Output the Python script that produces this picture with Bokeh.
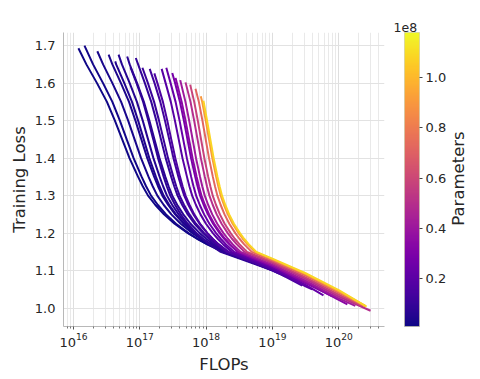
from math import pi
from bokeh.plotting import figure
from bokeh.layouts import row
from bokeh.models import (ColumnDataSource, LinearColorMapper, ColorBar, FixedTicker,
                          PrintfTickFormatter, LogTickFormatter, Label, Range1d, Title)
from bokeh.palettes import Plasma256
from bokeh.transform import linear_cmap
from bokeh.embed import file_html
from bokeh.resources import INLINE

# Model sizes (units of 1e8 parameters)
params = [0.015, 0.02, 0.03, 0.04, 0.05, 0.06, 0.07, 0.08, 0.09, 0.11, 0.13,
          0.16, 0.19, 0.23, 0.28, 0.34, 0.41, 0.49, 0.58, 0.72, 0.90, 1.08]

# Each run: log10(FLOPs) and training loss
run01_logflops = [16.075, 16.195, 16.355, 16.505, 16.625, 16.735, 16.845, 16.975, 17.045, 17.125, 17.235, 17.365, 17.525, 17.725, 17.865, 18.025, 18.275, 18.70]
run01_loss = [1.693, 1.65, 1.60, 1.55, 1.50, 1.45, 1.40, 1.35, 1.325, 1.30, 1.275, 1.25, 1.225, 1.20, 1.185, 1.17, 1.15, 1.125]
run02_logflops = [16.166, 16.296, 16.446, 16.587, 16.70, 16.803, 16.907, 17.029, 17.095, 17.17, 17.273, 17.396, 17.546, 17.734, 17.866, 18.016, 18.251, 18.72]
run02_loss = [1.700, 1.65, 1.60, 1.55, 1.50, 1.45, 1.40, 1.35, 1.325, 1.30, 1.275, 1.25, 1.225, 1.20, 1.185, 1.17, 1.15, 1.121]
run03_logflops = [16.36, 16.447, 16.587, 16.719, 16.825, 16.922, 17.019, 17.133, 17.195, 17.265, 17.362, 17.476, 17.617, 17.793, 17.916, 18.057, 18.277, 18.75]
run03_loss = [1.685, 1.65, 1.60, 1.55, 1.50, 1.45, 1.40, 1.35, 1.325, 1.30, 1.275, 1.25, 1.225, 1.20, 1.185, 1.17, 1.15, 1.119]
run04_logflops = [16.53, 16.587, 16.716, 16.838, 16.935, 17.024, 17.113, 17.218, 17.275, 17.34, 17.429, 17.534, 17.664, 17.826, 17.939, 18.069, 18.272, 18.80]
run04_loss = [1.676, 1.65, 1.60, 1.55, 1.50, 1.45, 1.40, 1.35, 1.325, 1.30, 1.275, 1.25, 1.225, 1.20, 1.185, 1.17, 1.15, 1.116]
run05_logflops = [16.63, 16.644, 16.767, 16.883, 16.975, 17.06, 17.144, 17.244, 17.298, 17.36, 17.445, 17.545, 17.668, 17.822, 17.930, 18.053, 18.246, 18.85]
run05_loss = [1.658, 1.65, 1.60, 1.55, 1.50, 1.45, 1.40, 1.35, 1.325, 1.30, 1.275, 1.25, 1.225, 1.20, 1.185, 1.17, 1.15, 1.113]
run06_logflops = [16.68, 16.731, 16.848, 16.957, 17.045, 17.125, 17.206, 17.30, 17.352, 17.41, 17.49, 17.585, 17.702, 17.848, 17.95, 18.067, 18.25, 18.90]
run06_loss = [1.676, 1.65, 1.60, 1.55, 1.50, 1.45, 1.40, 1.35, 1.325, 1.30, 1.275, 1.25, 1.225, 1.20, 1.185, 1.17, 1.15, 1.109]
run07_logflops = [16.81, 16.848, 16.959, 17.062, 17.145, 17.221, 17.297, 17.386, 17.435, 17.49, 17.566, 17.656, 17.766, 17.904, 18.001, 18.111, 18.284, 18.95]
run07_loss = [1.671, 1.65, 1.60, 1.55, 1.50, 1.45, 1.40, 1.35, 1.325, 1.30, 1.275, 1.25, 1.225, 1.20, 1.185, 1.17, 1.15, 1.106]
run08_logflops = [16.86, 16.952, 17.051, 17.13, 17.203, 17.275, 17.361, 17.407, 17.46, 17.533, 17.618, 17.724, 17.856, 17.948, 18.054, 18.219, 19.00]
run08_loss = [1.642, 1.60, 1.55, 1.50, 1.45, 1.40, 1.35, 1.325, 1.30, 1.275, 1.25, 1.225, 1.20, 1.185, 1.17, 1.15, 1.101]
run09_logflops = [16.94, 16.975, 17.077, 17.173, 17.25, 17.32, 17.391, 17.474, 17.519, 17.57, 17.64, 17.724, 17.826, 17.954, 18.044, 18.146, 18.306, 19.00, 19.10]
run09_loss = [1.667, 1.65, 1.60, 1.55, 1.50, 1.45, 1.40, 1.35, 1.325, 1.30, 1.275, 1.25, 1.225, 1.20, 1.185, 1.17, 1.15, 1.100, 1.092]
run10_logflops = [17.04, 17.123, 17.216, 17.29, 17.358, 17.426, 17.507, 17.55, 17.60, 17.668, 17.749, 17.848, 17.972, 18.059, 18.158, 18.313, 19.00, 19.20]
run10_loss = [1.641, 1.60, 1.55, 1.50, 1.45, 1.40, 1.35, 1.325, 1.30, 1.275, 1.25, 1.225, 1.20, 1.185, 1.17, 1.15, 1.101, 1.084]
run11_logflops = [17.15, 17.223, 17.31, 17.38, 17.444, 17.508, 17.583, 17.624, 17.67, 17.734, 17.809, 17.902, 18.018, 18.099, 18.192, 18.337, 19.00, 19.30]
run11_loss = [1.638, 1.60, 1.55, 1.50, 1.45, 1.40, 1.35, 1.325, 1.30, 1.275, 1.25, 1.225, 1.20, 1.185, 1.17, 1.15, 1.103, 1.078]
run12_logflops = [17.22, 17.266, 17.349, 17.415, 17.475, 17.536, 17.607, 17.646, 17.69, 17.751, 17.822, 17.91, 18.02, 18.097, 18.185, 18.323, 19.00, 19.45]
run12_loss = [1.626, 1.60, 1.55, 1.50, 1.45, 1.40, 1.35, 1.325, 1.30, 1.275, 1.25, 1.225, 1.20, 1.185, 1.17, 1.15, 1.102, 1.060]
run13_logflops = [17.33, 17.39, 17.468, 17.53, 17.587, 17.644, 17.712, 17.748, 17.79, 17.847, 17.915, 17.998, 18.102, 18.175, 18.258, 18.388, 19.00, 19.50, 19.60]
run13_loss = [1.638, 1.60, 1.55, 1.50, 1.45, 1.40, 1.35, 1.325, 1.30, 1.275, 1.25, 1.225, 1.20, 1.185, 1.17, 1.15, 1.106, 1.058, 1.050]
run14_logflops = [17.40, 17.465, 17.54, 17.60, 17.655, 17.71, 17.775, 17.81, 17.85, 17.905, 17.97, 18.05, 18.15, 18.22, 18.30, 18.425, 19.00, 19.50, 19.77]
run14_loss = [1.641, 1.60, 1.55, 1.50, 1.45, 1.40, 1.35, 1.325, 1.30, 1.275, 1.25, 1.225, 1.20, 1.185, 1.17, 1.15, 1.109, 1.062, 1.034]
run15_logflops = [17.49, 17.533, 17.606, 17.665, 17.719, 17.773, 17.836, 17.871, 17.91, 17.964, 18.028, 18.106, 18.204, 18.273, 18.351, 18.474, 19.00, 19.50, 19.90]
run15_loss = [1.627, 1.60, 1.55, 1.50, 1.45, 1.40, 1.35, 1.325, 1.30, 1.275, 1.25, 1.225, 1.20, 1.185, 1.17, 1.15, 1.112, 1.067, 1.032]
run16_logflops = [17.54, 17.56, 17.632, 17.69, 17.743, 17.796, 17.858, 17.892, 17.93, 17.983, 18.045, 18.122, 18.218, 18.285, 18.362, 18.482, 19.00, 19.50, 20.00, 20.13]
run16_loss = [1.614, 1.60, 1.55, 1.50, 1.45, 1.40, 1.35, 1.325, 1.30, 1.275, 1.25, 1.225, 1.20, 1.185, 1.17, 1.15, 1.113, 1.069, 1.022, 1.010]
run17_logflops = [17.61, 17.689, 17.745, 17.797, 17.848, 17.909, 17.942, 17.98, 18.032, 18.093, 18.168, 18.262, 18.328, 18.403, 18.521, 19.00, 19.50, 20.00, 20.25]
run17_loss = [1.608, 1.55, 1.50, 1.45, 1.40, 1.35, 1.325, 1.30, 1.275, 1.25, 1.225, 1.20, 1.185, 1.17, 1.15, 1.116, 1.073, 1.026, 1.006]
run18_logflops = [17.69, 17.765, 17.82, 17.871, 17.921, 17.981, 18.013, 18.05, 18.101, 18.16, 18.234, 18.326, 18.39, 18.464, 18.579, 19.00, 19.50, 20.00, 20.48]
run18_loss = [1.602, 1.55, 1.50, 1.45, 1.40, 1.35, 1.325, 1.30, 1.275, 1.25, 1.225, 1.20, 1.185, 1.17, 1.15, 1.120, 1.078, 1.031, 0.993]
run19_logflops = [17.76, 17.821, 17.875, 17.924, 17.974, 18.032, 18.064, 18.10, 18.15, 18.208, 18.28, 18.37, 18.433, 18.505, 18.618, 19.00, 19.50, 20.00, 20.35]
run19_loss = [1.596, 1.55, 1.50, 1.45, 1.40, 1.35, 1.325, 1.30, 1.275, 1.25, 1.225, 1.20, 1.185, 1.17, 1.15, 1.123, 1.082, 1.036, 1.006]
run20_logflops = [17.84, 17.891, 17.945, 17.994, 18.044, 18.102, 18.134, 18.17, 18.22, 18.278, 18.35, 18.44, 18.503, 18.575, 18.688, 19.00, 19.50, 20.00, 20.40]
run20_loss = [1.585, 1.55, 1.50, 1.45, 1.40, 1.35, 1.325, 1.30, 1.275, 1.25, 1.225, 1.20, 1.185, 1.17, 1.15, 1.127, 1.087, 1.041, 1.005]
run21_logflops = [17.92, 17.941, 17.995, 18.044, 18.094, 18.152, 18.184, 18.22, 18.27, 18.328, 18.40, 18.49, 18.553, 18.625, 18.738, 19.00, 19.50, 20.00, 20.40]
run21_loss = [1.565, 1.55, 1.50, 1.45, 1.40, 1.35, 1.325, 1.30, 1.275, 1.25, 1.225, 1.20, 1.185, 1.17, 1.15, 1.130, 1.091, 1.045, 1.006]
run22_logflops = [17.96, 18.015, 18.064, 18.114, 18.172, 18.204, 18.24, 18.29, 18.348, 18.42, 18.51, 18.573, 18.645, 18.758, 19.00, 19.50, 20.00, 20.42]
run22_loss = [1.553, 1.50, 1.45, 1.40, 1.35, 1.325, 1.30, 1.275, 1.25, 1.225, 1.20, 1.185, 1.17, 1.15, 1.132, 1.093, 1.048, 1.004]

y_ticks = [1.0, 1.1, 1.2, 1.3, 1.4, 1.5, 1.6, 1.7]
x_tick_exponents = [16, 17, 18, 19, 20]
cbar_ticks = [0.2, 0.4, 0.6, 0.8, 1.0]

runs_x = [run01_logflops, run02_logflops, run03_logflops, run04_logflops, run05_logflops,
          run06_logflops, run07_logflops, run08_logflops, run09_logflops, run10_logflops,
          run11_logflops, run12_logflops, run13_logflops, run14_logflops, run15_logflops,
          run16_logflops, run17_logflops, run18_logflops, run19_logflops, run20_logflops,
          run21_logflops, run22_logflops]
runs_y = [run01_loss, run02_loss, run03_loss, run04_loss, run05_loss, run06_loss,
          run07_loss, run08_loss, run09_loss, run10_loss, run11_loss, run12_loss,
          run13_loss, run14_loss, run15_loss, run16_loss, run17_loss, run18_loss,
          run19_loss, run20_loss, run21_loss, run22_loss]

FONT = "DejaVu Sans"
TXT = "#262626"
P_LOW, P_HIGH = 0.01, 1.18
FW, FH = 321, 294
LEFT, TOP, BOTTOM = 63, 32, 53
MAIN_W = 390
SIDE_W = 480 - MAIN_W
H = TOP + FH + BOTTOM

source = ColumnDataSource(dict(
    xs=[[10 ** v for v in lx] for lx in runs_x],
    ys=runs_y,
    param=params,
))

p = figure(x_axis_type="log", output_backend="svg", toolbar_location=None,
           frame_width=FW, frame_height=FH,
           min_border_left=LEFT, min_border_top=TOP, min_border_right=MAIN_W - LEFT - FW,
           min_border_bottom=BOTTOM,
           x_range=Range1d(10 ** 15.85, 10 ** 20.69), y_range=Range1d(0.951, 1.735))
p.outline_line_color = None
p.background_fill_color = "white"

p.multi_line(xs="xs", ys="ys", source=source, line_width=2.0,
             line_color=linear_cmap("param", Plasma256, P_LOW, P_HIGH))

minor = [k * 10 ** e for e in range(15, 21) for k in range(2, 10)]
p.xaxis.ticker = FixedTicker(ticks=[10 ** e for e in x_tick_exponents], minor_ticks=minor)
p.xaxis.formatter = LogTickFormatter()
p.yaxis.ticker = FixedTicker(ticks=y_ticks)
p.yaxis.formatter = PrintfTickFormatter(format="%.1f")

p.xaxis.axis_label = "FLOPs"
p.yaxis.axis_label = "Training Loss"
for ax in (p.xaxis[0], p.yaxis[0]):
    ax.axis_label_text_font = FONT
    ax.axis_label_text_font_size = "16.5px"
    ax.axis_label_text_font_style = "normal"
    ax.axis_label_text_color = TXT
    ax.major_label_text_font = FONT
    ax.major_label_text_font_size = "13px"
    ax.major_label_text_color = TXT
    ax.axis_line_color = "#b8b8b8"
p.xaxis.axis_label_standoff = 5
p.yaxis.axis_label_standoff = 3
p.xaxis.major_tick_out = 3
p.xaxis.major_tick_in = 0
p.xaxis.minor_tick_out = 2
p.xaxis.minor_tick_in = 0
p.xaxis.major_tick_line_color = "#555555"
p.xaxis.minor_tick_line_color = "#777777"
p.xaxis.major_label_standoff = 3
p.yaxis.major_tick_out = 0
p.yaxis.major_tick_in = 0
p.yaxis.minor_tick_line_color = None
p.yaxis.major_label_standoff = 8

p.xgrid.grid_line_color = "#dedede"
p.xgrid.minor_grid_line_color = "#e9e9e9"
p.xgrid.grid_line_width = 1
p.ygrid.grid_line_color = "#e2e2e2"
p.ygrid.minor_grid_line_color = None

# Side panel figure holding the colour bar and its texts (its frame aligns with the main frame)
side = figure(width=SIDE_W, height=H, output_backend="svg", toolbar_location=None,
              x_range=Range1d(0, SIDE_W), y_range=Range1d(0, FH),
              x_axis_location=None, y_axis_location=None, min_border=0)
side.outline_line_color = None
side.grid.visible = False

mapper = LinearColorMapper(palette=Plasma256, low=P_LOW, high=P_HIGH)
cb = ColorBar(color_mapper=mapper, ticker=FixedTicker(ticks=cbar_ticks),
              formatter=PrintfTickFormatter(format="%.1f"),
              location=(404 - MAIN_W, 0), width=15, height=FH, padding=0, margin=0,
              major_label_text_font=FONT, major_label_text_font_size="13px",
              major_label_text_color=TXT,
              major_tick_out=3, major_tick_in=0, major_tick_line_color="#444444",
              minor_tick_line_color=None, label_standoff=3,
              bar_line_color="#c8c8a0", bar_line_width=0.6,
              background_fill_alpha=0, border_line_color=None)
side.add_layout(cb)

side.add_layout(Title(text="1e8", align="left", offset=3, standoff=1,
                      vertical_align="bottom", text_font=FONT, text_font_size="12.5px",
                      text_font_style="normal", text_color=TXT), "above")
side.add_layout(Label(x=458 - MAIN_W, y=FH - (178 - TOP), x_units="screen", y_units="screen",
                      text="Parameters", angle=pi / 2, text_align="center",
                      text_baseline="middle", text_font=FONT,
                      text_font_size="16.5px", text_color=TXT))

layout = row(p, side, spacing=0)
open("out.html", "w").write(file_html(layout, INLINE))
